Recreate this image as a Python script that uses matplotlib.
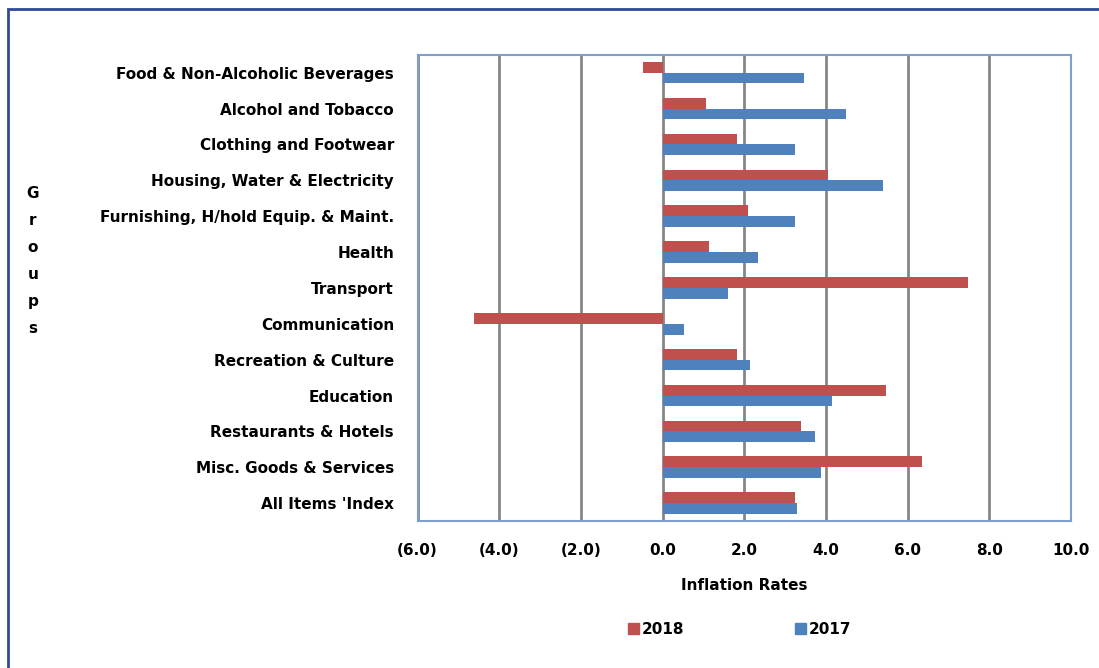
import numpy as np
import matplotlib
matplotlib.use("Agg")
import matplotlib.pyplot as plt
from matplotlib.patches import Rectangle, Patch

plt.rcParams['font.family'] = ['DejaVu Sans']
plt.rcParams['font.weight'] = 'bold'

groups = ["Food & Non-Alcoholic Beverages", "Alcohol and Tobacco", "Clothing and Footwear",
          "Housing, Water & Electricity", "Furnishing, H/hold Equip. & Maint.", "Health",
          "Transport", "Communication", "Recreation & Culture", "Education",
          "Restaurants & Hotels", "Misc. Goods & Services", "All Items 'Index"]
rate_2018 = [-0.48, 1.07, 1.83, 4.04, 2.09, 1.13, 7.47, -4.61, 1.83, 5.46, 3.39, 6.36, 3.23]
rate_2017 = [3.45, 4.50, 3.23, 5.40, 3.23, 2.34, 1.59, 0.52, 2.13, 4.14, 3.74, 3.89, 3.30]
xticks = [-6, -4, -2, 0, 2, 4, 6, 8, 10]

red = '#C0504D'
blue = '#4F81BD'

fig = plt.figure(figsize=(10.99, 6.68), dpi=100)
ax = fig.add_axes([0.380, 0.220, 0.5945, 0.698])

y = np.arange(len(groups))
h = 0.30
ax.barh(y - h/2, rate_2018, height=h, color=red, zorder=3)
ax.barh(y + h/2, rate_2017, height=h, color=blue, zorder=3)

ax.set_xlim(-6, 10)
ax.set_ylim(len(groups) - 0.5, -0.5)
ax.set_xticks(xticks)
ax.set_xticklabels([f"({abs(v):.1f})" if v < 0 else f"{v:.1f}" for v in xticks],
                   fontsize=11, fontweight='bold')
ax.set_yticks(y)
ax.set_yticklabels(groups, fontsize=11, fontweight='bold')
ax.tick_params(length=0)
ax.tick_params(axis='y', pad=17)
ax.tick_params(axis='x', pad=16)
ax.grid(axis='x', color='#868686', linewidth=2, zorder=0)
for s in ax.spines.values():
    s.set_color('#7F9FCF')
    s.set_linewidth(1.5)
ax.set_xlabel("Inflation Rates", fontsize=11, fontweight='bold', labelpad=14)

fig.text(0.030, 0.722, "G\nr\no\nu\np\ns", ha='center', va='top', fontsize=11,
         fontweight='bold', linespacing=2.0)

handles = [Patch(color=red, label='2018'), Patch(color=blue, label='2017')]
fig.legend(handles=handles, loc='center', bbox_to_anchor=(0.673, 0.058), ncol=2,
           frameon=False, fontsize=11, handlelength=0.7, handleheight=0.7,
           handletextpad=0.15, columnspacing=7.3)

fig.patches.append(Rectangle((0.007, -0.02), 1.02, 1.007, transform=fig.transFigure,
                             fill=False, edgecolor='#2F4A9A', linewidth=2))

fig.savefig("out.png", dpi=100)
